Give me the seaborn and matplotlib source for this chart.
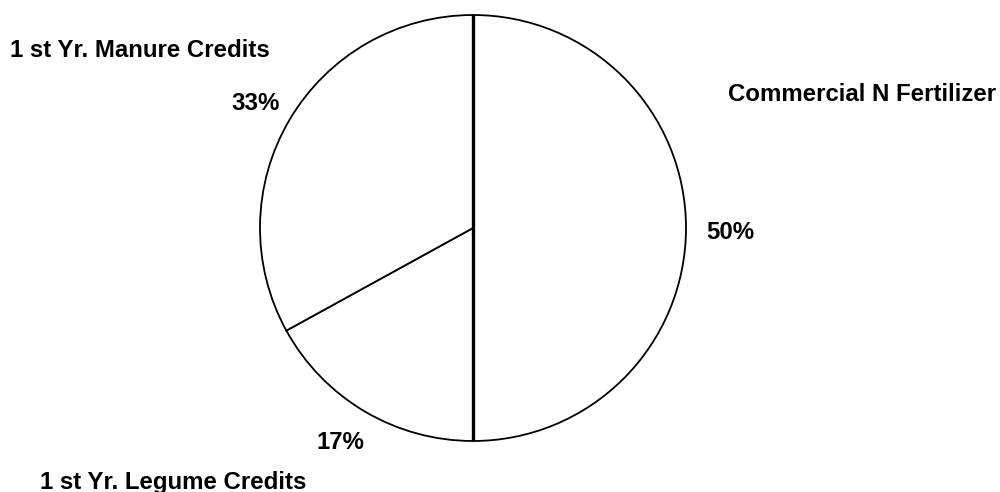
import matplotlib
matplotlib.use("Agg")
import matplotlib.pyplot as plt
import seaborn as sns
import numpy as np

sns.set_theme(style="white")
plt.rcParams['font.family'] = ['Liberation Sans', 'DejaVu Sans']

categories = ["Commercial N Fertilizer", "1 st Yr. Legume Credits", "1 st Yr. Manure Credits"]
values = [50, 17, 33]
pct_labels = ["50%", "17%", "33%"]

W, H = 1000, 492
fig = plt.figure(figsize=(W / 100, H / 100), dpi=100)
fig.patch.set_facecolor("white")

cx, cy, r = 473, 228, 213
ax = fig.add_axes([(cx - r) / W, (H - cy - r) / H, 2 * r / W, 2 * r / H])
wedges, _ = ax.pie(values, startangle=90, counterclock=False, radius=1,
                   colors=["white"] * 3,
                   wedgeprops=dict(edgecolor="black", linewidth=1.3))
ax.set_xlim(-1.0, 1.0)
ax.set_ylim(-1.0, 1.0)
ax.set_aspect("equal")
ax.axis("off")

# thicker vertical boundary line (first wedge's radial edges)
for w in wedges[:1]:
    for ang in (w.theta1, w.theta2):
        a = np.deg2rad(ang)
        ax.plot([0, np.cos(a)], [0, np.sin(a)], color="black", lw=2.4,
                solid_capstyle="butt")

def ftext(x, baseline, s):
    fig.text(x / W, 1 - baseline / H, s, ha="left", va="baseline",
             fontsize=17.3, fontweight="bold", color="black")

# category labels
ftext(728, 101, categories[0])
ftext(40, 488.5, categories[1])
ftext(10, 57, categories[2])
# percentages
ftext(706, 239, pct_labels[0])
ftext(316, 449, pct_labels[1])
ftext(231, 110, pct_labels[2])

fig.savefig("out.png", dpi=100, facecolor="white")
